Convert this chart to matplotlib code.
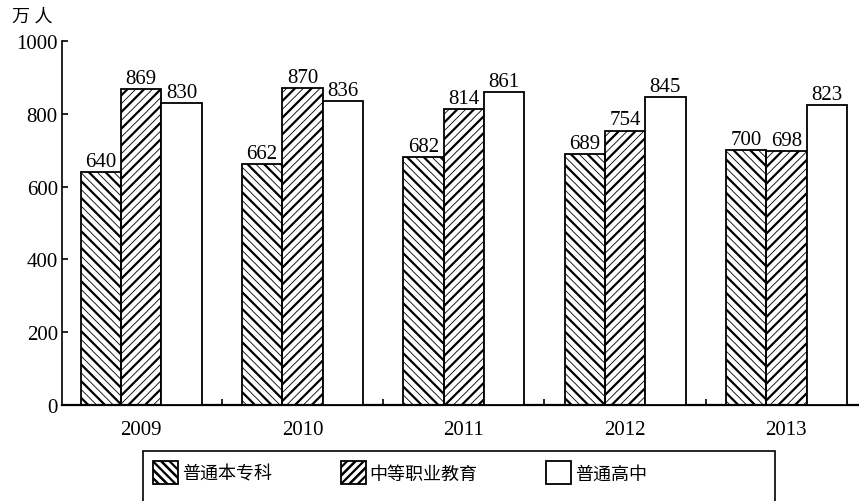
import matplotlib
matplotlib.use("Agg")
import matplotlib.pyplot as plt
from matplotlib.patches import Rectangle
from matplotlib.legend_handler import HandlerTuple
import numpy as np

plt.rcParams['font.family'] = ['Liberation Serif', 'Noto Sans CJK SC', 'DejaVu Sans']

years = ['2009', '2010', '2011', '2012', '2013']
series_names = ['普通本专科', '中等职业教育', '普通高中']
undergrad = [640, 662, 682, 689, 700]
vocational = [869, 870, 814, 754, 698]
highschool = [830, 836, 861, 845, 823]
yticks = [0, 200, 400, 600, 800, 1000]

W, H = 859, 502
fig = plt.figure(figsize=(W / 100, H / 100), dpi=100)
ax = fig.add_axes([62 / W, 1 - 406 / H, 1 - 62 / W, (406 - 42) / H])

x = np.arange(len(years))
bw = 0.25


def set_hlw(patches, lw):
    for p in patches:
        if hasattr(p, 'set_hatch_linewidth'):
            p.set_hatch_linewidth(lw)


def hatched_bars(xpos, vals, thin, thick):
    plt.rcParams['hatch.linewidth'] = 0.6
    b1 = ax.bar(xpos, vals, bw, facecolor='white', edgecolor='black',
                hatch=thin, linewidth=0, zorder=2)
    set_hlw(b1, 0.6)
    plt.rcParams['hatch.linewidth'] = 1.6
    b2 = ax.bar(xpos, vals, bw, facecolor='none', edgecolor='black',
                hatch=thick, linewidth=1.3, zorder=3)
    set_hlw(b2, 1.6)
    return b1, b2


hatched_bars(x - bw, undergrad, '\\\\\\\\', '\\\\')
hatched_bars(x, vocational, '////', '//')
plt.rcParams['hatch.linewidth'] = 1.0
ax.bar(x + bw, highschool, bw, facecolor='white', edgecolor='black',
       linewidth=1.3, zorder=3)

for xs, vals in ((x - bw, undergrad), (x, vocational), (x + bw, highschool)):
    for xi, v in zip(xs, vals):
        ax.text(xi, v + 3, str(v), ha='center', va='bottom', fontsize=15,
                clip_on=False)

ax.set_xlim(-0.49, 4.45)
ax.set_ylim(0, 1000)
ax.set_yticks(yticks)
ax.set_yticklabels([str(t) for t in yticks], fontsize=15)
ax.set_xticks(x)
ax.set_xticklabels(years, fontsize=15)
ax.set_xticks([0.5, 1.5, 2.5, 3.5], minor=True)
ax.tick_params(axis='x', which='major', length=0, pad=11)
ax.tick_params(axis='x', which='minor', direction='in', length=4, width=1.2)
ax.tick_params(axis='y', direction='in', length=4, width=1.2, pad=3)
ax.spines['top'].set_visible(False)
ax.spines['right'].set_visible(False)
ax.spines['left'].set_linewidth(1.2)
ax.spines['bottom'].set_linewidth(1.6)

fig.text(12 / W, 1 - 9 / H, '万 人', fontsize=13, ha='left', va='top')

# legend
plt.rcParams['hatch.linewidth'] = 0.6
lh1a = Rectangle((0, 0), 1, 1, facecolor='white', edgecolor='black', hatch='\\\\\\\\', linewidth=0)
lh2a = Rectangle((0, 0), 1, 1, facecolor='white', edgecolor='black', hatch='////', linewidth=0)
set_hlw((lh1a, lh2a), 0.6)
plt.rcParams['hatch.linewidth'] = 1.6
lh1b = Rectangle((0, 0), 1, 1, facecolor='none', edgecolor='black', hatch='\\\\', linewidth=1.3)
lh2b = Rectangle((0, 0), 1, 1, facecolor='none', edgecolor='black', hatch='//', linewidth=1.3)
set_hlw((lh1b, lh2b), 1.6)
lh3 = Rectangle((0, 0), 1, 1, facecolor='white', edgecolor='black', linewidth=1.3)

fig.legend([(lh1a, lh1b), (lh2a, lh2b), lh3], series_names,
           handler_map={tuple: HandlerTuple(ndivide=1, pad=0)},
           loc='upper left', bbox_to_anchor=(153 / W, 1 - 462 / H),
           ncol=3, frameon=False, fontsize=13, borderpad=0,
           borderaxespad=0, handlelength=1.4, handleheight=1.6,
           handletextpad=0.2, columnspacing=3.8)

fig.add_artist(Rectangle((143 / W, -0.02), (775 - 143) / W, 0.02 + (502 - 452) / H,
                         transform=fig.transFigure, fill=False,
                         edgecolor='black', linewidth=1.2))

fig.savefig('out.png', dpi=100)
